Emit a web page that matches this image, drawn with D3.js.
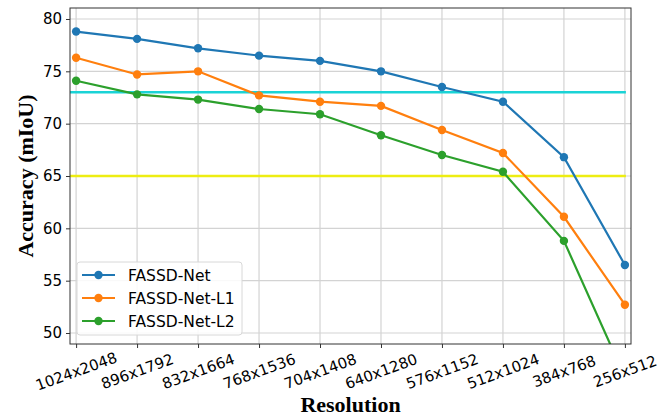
<!DOCTYPE html>
<html>
<head>
<meta charset="utf-8">
<script src="https://cdn.jsdelivr.net/npm/d3@7"></script>
<style>
  body { margin: 0; background: #fff; }
  svg { display: block; }
  .tick text { font-family: "DejaVu Sans", sans-serif; font-size: 15px; fill: #000; }
  .axis-title { font-family: "Liberation Serif", "Times New Roman", serif; font-weight: bold; font-size: 22px; }
  .legend text { font-family: "DejaVu Sans", sans-serif; font-size: 15.5px; }
</style>
</head>
<body>
<svg id="chart" width="670" height="416"></svg>
<script>
(function() {

  'use strict';

  // data
  var resolutions = ['1024x2048', '896x1792', '832x1664', '768x1536', '704x1408',
                     '640x1280', '576x1152', '512x1024', '384x768', '256x512'];
  var fassdNet   = [78.8, 78.1, 77.2, 76.5, 76.0, 75.0, 73.5, 72.1, 66.8, 56.5];
  var fassdNetL1 = [76.3, 74.7, 75.0, 72.7, 72.1, 71.7, 69.4, 67.2, 61.1, 52.7];
  var fassdNetL2 = [74.1, 72.8, 72.3, 71.4, 70.9, 68.9, 67.0, 65.4, 58.8, 45.8];
  var seriesNames = ['FASSD-Net', 'FASSD-Net-L1', 'FASSD-Net-L2'];
  var refLines = [73, 65];
  var yTicks = [50, 55, 60, 65, 70, 75, 80];

  var colours = ['#1f77b4', '#ff7f0e', '#2ca02c'];
  var refColours = ['#1ad3d6', '#eded12'];

  var svg = d3.select('#chart');
  var left = 70, right = 631, top = 8, bottom = 344;

  var x = d3.scalePoint().domain(resolutions).range([left, right]).padding(0.1);
  var y = d3.scaleLinear().domain([48.95, 81.05]).range([bottom, top]);

  // grid
  var grid = svg.append('g');
  grid.selectAll('.gx').data(resolutions).enter().append('line')
    .attr('x1', function(d) { return x(d); }).attr('x2', function(d) { return x(d); })
    .attr('y1', top).attr('y2', bottom)
    .attr('stroke', '#d3d3d3').attr('stroke-width', 1.2);
  grid.selectAll('.gy').data(yTicks).enter().append('line')
    .attr('x1', left).attr('x2', right)
    .attr('y1', function(d) { return y(d); }).attr('y2', function(d) { return y(d); })
    .attr('stroke', '#d3d3d3').attr('stroke-width', 1.2);

  svg.append('clipPath').attr('id', 'plot-clip')
    .append('rect').attr('x', left).attr('y', top)
    .attr('width', right - left).attr('height', bottom - top);

  var plot = svg.append('g').attr('clip-path', 'url(#plot-clip)');

  // reference lines
  plot.selectAll('.ref').data(refLines).enter().append('line')
    .attr('x1', left).attr('x2', x(resolutions[resolutions.length - 1]) + 1)
    .attr('y1', function(d) { return y(d); }).attr('y2', function(d) { return y(d); })
    .attr('stroke', function(d, i) { return refColours[i]; })
    .attr('stroke-width', 2.5);

  var series = [fassdNet, fassdNetL1, fassdNetL2];
  var line = d3.line()
    .x(function(d, i) { return x(resolutions[i]); })
    .y(function(d) { return y(d); });

  series.forEach(function(values, s) {
    plot.append('path')
      .attr('d', line(values))
      .attr('fill', 'none')
      .attr('stroke', colours[s])
      .attr('stroke-width', 2.2);
    plot.selectAll('.pt' + s).data(values).enter().append('circle')
      .attr('cx', function(d, i) { return x(resolutions[i]); })
      .attr('cy', function(d) { return y(d); })
      .attr('r', 4.2)
      .attr('fill', colours[s]);
  });

  // frame
  svg.append('rect')
    .attr('x', left).attr('y', top)
    .attr('width', right - left).attr('height', bottom - top)
    .attr('fill', 'none').attr('stroke', '#333').attr('stroke-width', 1);

  // axes
  var yAxis = svg.append('g').attr('transform', 'translate(' + left + ',0)')
    .call(d3.axisLeft(y).tickValues(yTicks).tickSize(4).tickPadding(4));
  yAxis.select('.domain').remove();
  yAxis.selectAll('.tick line').attr('stroke', '#333');

  var xAxis = svg.append('g').attr('transform', 'translate(0,' + bottom + ')')
    .call(d3.axisBottom(x).tickSize(4).tickSizeOuter(0));
  xAxis.select('.domain').remove();
  xAxis.selectAll('.tick line').attr('stroke', '#333');
  xAxis.selectAll('.tick text')
    .attr('text-anchor', 'middle')
    .attr('dy', null)
    .attr('y', 0)
    .attr('transform', 'translate(0,28) rotate(-20)')
    .attr('dominant-baseline', 'middle');

  // titles
  svg.append('text').attr('class', 'axis-title')
    .attr('x', (left + right) / 2).attr('y', 412)
    .attr('text-anchor', 'middle')
    .text('Resolution');
  svg.append('text').attr('class', 'axis-title')
    .attr('transform', 'translate(33,' + ((top + bottom) / 2) + ') rotate(-90)')
    .attr('text-anchor', 'middle')
    .text('Accuracy (mIoU)');

  // legend
  var legend = svg.append('g').attr('class', 'legend');
  legend.append('rect')
    .attr('x', 77).attr('y', 262).attr('width', 165).attr('height', 73)
    .attr('rx', 3).attr('fill', '#fff').attr('fill-opacity', 0.85)
    .attr('stroke', '#d8d8d8');
  seriesNames.forEach(function(name, i) {
    var ly = 275 + i * 23;
    legend.append('line')
      .attr('x1', 82).attr('x2', 115).attr('y1', ly).attr('y2', ly)
      .attr('stroke', colours[i]).attr('stroke-width', 2.2);
    legend.append('circle').attr('cx', 98.5).attr('cy', ly).attr('r', 4.2).attr('fill', colours[i]);
    legend.append('text').attr('x', 128).attr('y', ly).attr('dy', '0.36em').text(name);
  });

})();
</script>
</body>
</html>
